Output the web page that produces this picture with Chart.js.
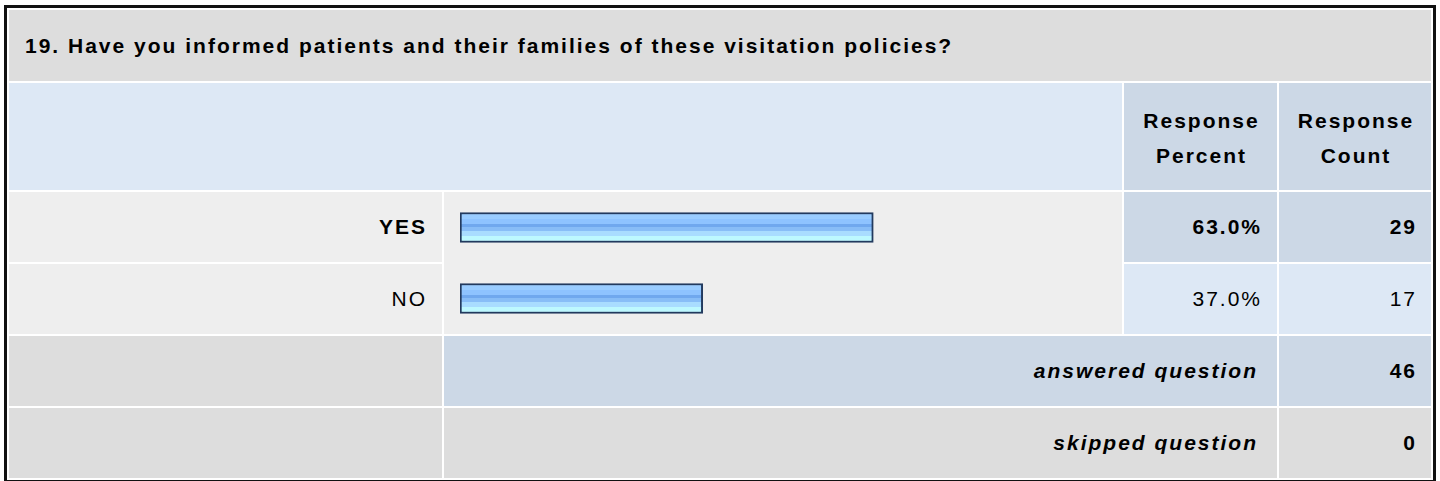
<!DOCTYPE html>
<html>
<head>
<meta charset="utf-8">
<script src="https://cdn.jsdelivr.net/npm/chart.js@4.4.1/dist/chart.umd.min.js"></script>
<style>
  html, body { margin: 0; padding: 0; background: #fff; }
  body { width: 1440px; height: 481px; position: relative; overflow: hidden;
         font-family: "Liberation Sans", Arial, sans-serif; color: #000; }
  .grid { position: absolute; left: 4px; top: 5px; border: 3px solid #111; padding: 2px;
          background: #fff; display: grid; gap: 2px;
          grid-template-columns: 433px 678px 153px 152px;
          grid-template-rows: 71px 107px 70px 70px 70px 70px; }
  .grid > div { display: flex; align-items: center; font-size: 21px; letter-spacing: 2px;
                box-sizing: border-box; }
  .title { grid-column: 1 / 5; background: #dddddd; font-weight: bold; padding-left: 16px; }
  .hblank { grid-column: 1 / 3; background: #dde8f5; }
  .hcol { background: #ccd8e6; font-weight: bold; justify-content: center; text-align: center;
          line-height: 35px; padding-left: 2px; padding-top: 3px; }
  .lbl { background: #eeeeee; justify-content: flex-end; padding-right: 15px; }
  .barcell { background: #eeeeee; grid-row: 3 / 5; grid-column: 2; }
  .num { justify-content: flex-end; padding-right: 15px; }
  .cnt { padding-right: 14px; }
  .dark { background: #ccd8e6; }
  .light { background: #dde8f5; }
  .gray { background: #dddddd; }
  .b { font-weight: bold; }
  .sum { grid-column: 2 / 4; justify-content: flex-end; padding-right: 19px; font-weight: bold; font-style: italic; }
  #wrap { position: absolute; left: 444px; top: 192px; width: 678px; height: 142px; }
</style>
</head>
<body>
<div class="grid">
  <div class="title" id="title"></div>
  <div class="hblank"></div>
  <div class="hcol">Response<br>Percent</div>
  <div class="hcol">Response<br>Count</div>

  <div class="lbl b" style="grid-row:3;grid-column:1" id="lbl0"></div>
  <div class="barcell"></div>
  <div class="num dark b" style="grid-row:3;grid-column:3" id="pct0"></div>
  <div class="num cnt dark b" style="grid-row:3;grid-column:4" id="cnt0"></div>

  <div class="lbl" style="grid-row:4;grid-column:1" id="lbl1"></div>
  <div class="num light" style="grid-row:4;grid-column:3" id="pct1"></div>
  <div class="num cnt light" style="grid-row:4;grid-column:4" id="cnt1"></div>

  <div class="gray"></div>
  <div class="sum dark">answered question</div>
  <div class="num cnt dark b" id="answered"></div>

  <div class="gray"></div>
  <div class="sum gray">skipped question</div>
  <div class="num cnt gray b" id="skipped"></div>
</div>
<div id="wrap"><canvas id="myChart"></canvas></div>

<script>
const questionTitle = "19. Have you informed patients and their families of these visitation policies?"
const answerLabels = ["YES", "NO"]
const responsePercent = [63.0, 37.0]
const responseCount = [29, 17]
const answeredCount = 46
const skippedCount = 0

document.getElementById("title").textContent = questionTitle
for (let i = 0; i < answerLabels.length; i++) {
    document.getElementById("lbl" + i).textContent = answerLabels[i]
    document.getElementById("pct" + i).textContent = responsePercent[i].toFixed(1) + "%"
    document.getElementById("cnt" + i).textContent = responseCount[i]
}
document.getElementById("answered").textContent = answeredCount
document.getElementById("skipped").textContent = skippedCount

// striped blue fill like the old survey bar images
function barFill(context) {
    const chart = context.chart
    const yScale = chart.scales.y
    if (!yScale || context.dataIndex === undefined) return "#8ec3ff"
    const y = yScale.getPixelForValue(context.dataIndex)
    if (!isFinite(y)) return "#8ec3ff"
    const top = y - 15
    const g = chart.ctx.createLinearGradient(0, top, 0, top + 30)
    const stops = [
        [0, "#99ccff"], [0.2, "#99ccff"], [0.2, "#8ec3ff"], [0.37, "#8ec3ff"],
        [0.37, "#70a8ee"], [0.5, "#70a8ee"], [0.5, "#88bdf7"], [0.63, "#88bdf7"],
        [0.63, "#a9dcff"], [0.77, "#a9dcff"], [0.77, "#bdf8ff"], [1, "#bdf8ff"]
    ]
    stops.forEach(s => g.addColorStop(s[0], s[1]))
    return g
}

const ctx = document.getElementById('myChart')
new Chart(ctx, {
    type: 'bar',
    data: {
        labels: answerLabels,
        datasets: [{
            data: responsePercent,
            backgroundColor: barFill,
            borderColor: "#223a5e",
            borderWidth: 2,
            borderSkipped: false,
            barThickness: 30
        }]
    },
    options: {
        indexAxis: 'y',
        responsive: true,
        maintainAspectRatio: false,
        animation: false,
        layout: { padding: { left: 16, right: 6, top: 0, bottom: 0 } },
        plugins: { legend: { display: false }, tooltip: { enabled: false } },
        scales: {
            x: { display: false, min: 0, max: 100 },
            y: { display: false }
        }
    }
})
</script>
</body>
</html>
